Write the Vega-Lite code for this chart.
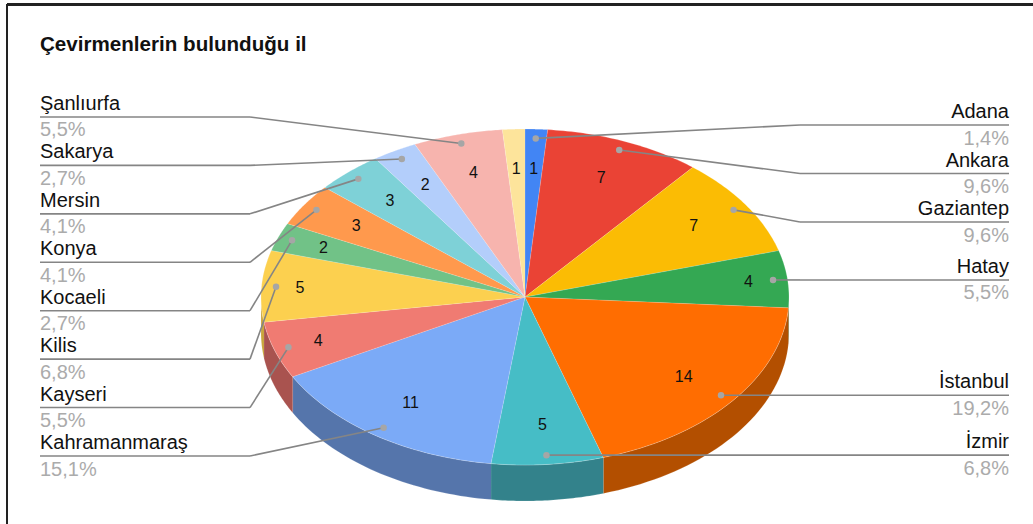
{
  "$schema": "https://vega.github.io/schema/vega-lite/v6.json",
  "width": 1033,
  "height": 524,
  "padding": 0,
  "autosize": {"type": "none"},
  "background": "#ffffff",
  "view": {"stroke": null},
  "title": {
    "text": "Çevirmenlerin bulunduğu il",
    "anchor": "start",
    "frame": "group",
    "dx": 40,
    "offset": -56,
    "font": "Liberation Sans",
    "fontSize": 20.6,
    "fontWeight": "bold",
    "color": "#111111",
    "limit": 600
  },
  "data": {
    "values": [
      {"il": "Adana", "sayi": 1, "oran": "1,4%"},
      {"il": "Ankara", "sayi": 7, "oran": "9,6%"},
      {"il": "Gaziantep", "sayi": 7, "oran": "9,6%"},
      {"il": "Hatay", "sayi": 4, "oran": "5,5%"},
      {"il": "İstanbul", "sayi": 14, "oran": "19,2%"},
      {"il": "İzmir", "sayi": 5, "oran": "6,8%"},
      {"il": "Kahramanmaraş", "sayi": 11, "oran": "15,1%"},
      {"il": "Kayseri", "sayi": 4, "oran": "5,5%"},
      {"il": "Kilis", "sayi": 5, "oran": "6,8%"},
      {"il": "Kocaeli", "sayi": 2, "oran": "2,7%"},
      {"il": "Konya", "sayi": 3, "oran": "4,1%"},
      {"il": "Mersin", "sayi": 3, "oran": "4,1%"},
      {"il": "Sakarya", "sayi": 2, "oran": "2,7%"},
      {"il": "Şanlıurfa", "sayi": 4, "oran": "5,5%"},
      {"il": "Diğer", "sayi": 1, "oran": "1,4%"}
    ]
  },
  "transform": [
    {"joinaggregate": [{"op": "sum", "field": "sayi", "as": "toplam"}]},
    {"window": [{"op": "sum", "field": "sayi", "as": "son"}, {"op": "row_number", "as": "sira"}]},
    {"calculate": "2*PI*(datum.son-datum.sayi)/datum.toplam", "as": "a0"},
    {"calculate": "2*PI*datum.son/datum.toplam", "as": "a1"},
    {"calculate": "(datum.a0+datum.a1)/2", "as": "am"},
    {"calculate": "525+0.945*264*sin(datum.am)", "as": "noktaX"},
    {"calculate": "297-0.945*168*cos(datum.am)", "as": "noktaY"},
    {"calculate": "0.765+0.09*max(0,(abs(sin(datum.am))-0.84)/0.16)", "as": "rho"},
    {"calculate": "525+datum.rho*264*sin(datum.am)", "as": "sayiX"},
    {"calculate": "297-datum.rho*168*cos(datum.am)", "as": "sayiY"},
    {"calculate": "datum.sira>=7", "as": "solda"},
    {"calculate": "datum.solda ? 456-48.43*(datum.sira-7) : (datum.sira<=3 ? 125+48.5*(datum.sira-1) : datum.noktaY)", "as": "cizgiY"},
    {"calculate": "datum.solda ? 250 : 800", "as": "dirsekX"},
    {"calculate": "datum.solda ? 40 : 1009", "as": "uçX"},
    {"calculate": "datum.cizgiY-13", "as": "adY"},
    {"calculate": "datum.cizgiY+13.5", "as": "oranY"}
  ],
  "encoding": {
    "x": {"type": "quantitative", "scale": {"domain": [0, 1033]}, "axis": null},
    "y": {"type": "quantitative", "scale": {"domain": [0, 524], "reverse": true}, "axis": null}
  },
  "layer": [
    {
      "description": "Side wall of the tilted pie: the front half of the rim pushed down by its depth",
      "transform": [
        {"filter": "datum.a1>PI/2 && datum.a0<3*PI/2"},
        {"calculate": "max(datum.a0,PI/2)", "as": "b0"},
        {"calculate": "min(datum.a1,3*PI/2)", "as": "b1"},
        {"calculate": "sequence(0,82)", "as": "adimlar"},
        {"flatten": ["adimlar"], "as": ["adim"]},
        {"calculate": "datum.adim<=40 ? datum.adim/40 : (81-datum.adim)/40", "as": "u"},
        {"calculate": "datum.b0+(datum.b1-datum.b0)*datum.u", "as": "aci"},
        {"calculate": "525+264*sin(datum.aci)", "as": "px"},
        {"calculate": "297-168*cos(datum.aci)+(datum.adim<=40 ? 0 : 36)", "as": "py"}
      ],
      "mark": {"type": "line", "filled": true, "strokeWidth": 0.6, "stroke": "#ffffff", "strokeOpacity": 0.25},
      "encoding": {
        "x": {"field": "px", "type": "quantitative"},
        "y": {"field": "py", "type": "quantitative"},
        "order": {"field": "adim", "type": "quantitative"},
        "detail": {"field": "il"},
        "fill": {
          "field": "il",
          "type": "nominal",
          "legend": null,
          "scale": {
            "domain": ["Hatay", "İstanbul", "İzmir", "Kahramanmaraş", "Kayseri", "Kilis"],
            "range": ["#24783c", "#b34f00", "#33828b", "#5575ab", "#a9534f", "#c9a63d"]
          }
        }
      }
    },
    {
      "description": "Top face of the pie: one filled wedge per province, its angle taken from the count",
      "transform": [
        {"calculate": "sequence(0,42)", "as": "adimlar"},
        {"flatten": ["adimlar"], "as": ["adim"]},
        {"calculate": "datum.a0+(datum.a1-datum.a0)*(datum.adim-1)/40", "as": "aci"},
        {"calculate": "datum.adim==0 ? 525 : 525+264*sin(datum.aci)", "as": "px"},
        {"calculate": "datum.adim==0 ? 297 : 297-168*cos(datum.aci)", "as": "py"}
      ],
      "mark": {"type": "line", "filled": true, "strokeWidth": 0.6, "stroke": "#ffffff", "strokeOpacity": 0.35},
      "encoding": {
        "x": {"field": "px", "type": "quantitative"},
        "y": {"field": "py", "type": "quantitative"},
        "order": {"field": "adim", "type": "quantitative"},
        "detail": {"field": "il"},
        "fill": {
          "field": "il",
          "type": "nominal",
          "legend": null,
          "scale": {
            "domain": ["Adana", "Ankara", "Gaziantep", "Hatay", "İstanbul", "İzmir", "Kahramanmaraş", "Kayseri", "Kilis", "Kocaeli", "Konya", "Mersin", "Sakarya", "Şanlıurfa", "Diğer"],
            "range": ["#4285f4", "#ea4335", "#fbbc04", "#34a853", "#ff6d01", "#46bdc6", "#7baaf7", "#f07b72", "#fcd04f", "#71c287", "#ff994d", "#7ed1d7", "#b3cefb", "#f7b4ae", "#fde49b"]
          }
        }
      }
    },
    {
      "description": "Counts printed on the wedges",
      "mark": {"type": "text", "font": "Liberation Sans", "fontSize": 16, "color": "#111111", "baseline": "middle"},
      "encoding": {
        "x": {"field": "sayiX", "type": "quantitative"},
        "y": {"field": "sayiY", "type": "quantitative"},
        "text": {"field": "sayi", "type": "quantitative"}
      }
    },
    {
      "description": "Leader from the wedge dot to the elbow",
      "transform": [{"filter": "datum.sira!=15"}],
      "mark": {"type": "rule", "color": "#858585", "strokeWidth": 1.6},
      "encoding": {
        "x": {"field": "noktaX", "type": "quantitative"},
        "y": {"field": "noktaY", "type": "quantitative"},
        "x2": {"field": "dirsekX"},
        "y2": {"field": "cizgiY"}
      }
    },
    {
      "description": "Leader from the elbow out to the label column",
      "transform": [{"filter": "datum.sira!=15"}],
      "mark": {"type": "rule", "color": "#858585", "strokeWidth": 1.6},
      "encoding": {
        "x": {"field": "dirsekX", "type": "quantitative"},
        "y": {"field": "cizgiY", "type": "quantitative"},
        "x2": {"field": "uçX"}
      }
    },
    {
      "transform": [{"filter": "datum.sira!=15"}],
      "mark": {"type": "point", "filled": true, "color": "#a6a6a6", "opacity": 1, "size": 42},
      "encoding": {
        "x": {"field": "noktaX", "type": "quantitative"},
        "y": {"field": "noktaY", "type": "quantitative"}
      }
    },
    {
      "description": "Left column: province names",
      "transform": [{"filter": "datum.solda && datum.sira!=15"}],
      "mark": {"type": "text", "align": "left", "baseline": "middle", "font": "Liberation Sans", "fontSize": 20, "color": "#111111"},
      "encoding": {
        "x": {"field": "uçX", "type": "quantitative"},
        "y": {"field": "adY", "type": "quantitative"},
        "text": {"field": "il"}
      }
    },
    {
      "description": "Left column: shares",
      "transform": [{"filter": "datum.solda && datum.sira!=15"}],
      "mark": {"type": "text", "align": "left", "baseline": "middle", "font": "Liberation Sans", "fontSize": 20, "color": "#ababab"},
      "encoding": {
        "x": {"field": "uçX", "type": "quantitative"},
        "y": {"field": "oranY", "type": "quantitative"},
        "text": {"field": "oran"}
      }
    },
    {
      "description": "Right column: province names",
      "transform": [{"filter": "!datum.solda"}],
      "mark": {"type": "text", "align": "right", "baseline": "middle", "font": "Liberation Sans", "fontSize": 20, "color": "#111111"},
      "encoding": {
        "x": {"field": "uçX", "type": "quantitative"},
        "y": {"field": "adY", "type": "quantitative"},
        "text": {"field": "il"}
      }
    },
    {
      "description": "Right column: shares",
      "transform": [{"filter": "!datum.solda"}],
      "mark": {"type": "text", "align": "right", "baseline": "middle", "font": "Liberation Sans", "fontSize": 20, "color": "#ababab"},
      "encoding": {
        "x": {"field": "uçX", "type": "quantitative"},
        "y": {"field": "oranY", "type": "quantitative"},
        "text": {"field": "oran"}
      }
    },
    {
      "description": "Frame along the top of the card",
      "mark": {"type": "rule", "color": "#222222", "strokeWidth": 2},
      "encoding": {"y": {"datum": 4.5}, "x": {"datum": 7}, "x2": {"datum": 1033}}
    },
    {
      "description": "Frame along the left of the card",
      "mark": {"type": "rule", "color": "#222222", "strokeWidth": 2},
      "encoding": {"x": {"datum": 7}, "y": {"datum": 4.5}, "y2": {"datum": 524}}
    }
  ],
  "resolve": {"scale": {"fill": "independent"}}
}
